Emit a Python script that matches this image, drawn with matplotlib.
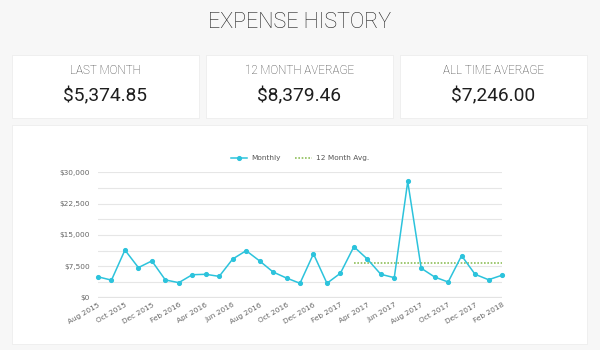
"""Expense history dashboard: three summary cards and a monthly expense line chart."""

import matplotlib

matplotlib.use("Agg")
import matplotlib.pyplot as plt  # noqa: E402
from matplotlib.patches import Rectangle  # noqa: E402
from matplotlib.ticker import FuncFormatter, MultipleLocator  # noqa: E402

# ---- data -------------------------------------------------------------------
months = [
    "Aug 2015", "Sep 2015", "Oct 2015", "Nov 2015", "Dec 2015", "Jan 2016",
    "Feb 2016", "Mar 2016", "Apr 2016", "May 2016", "Jun 2016", "Jul 2016",
    "Aug 2016", "Sep 2016", "Oct 2016", "Nov 2016", "Dec 2016", "Jan 2017",
    "Feb 2017", "Mar 2017", "Apr 2017", "May 2017", "Jun 2017", "Jul 2017",
    "Aug 2017", "Sep 2017", "Oct 2017", "Nov 2017", "Dec 2017", "Jan 2018",
    "Feb 2018",
]
monthly = [
    5000, 4200, 11400, 7200, 8800, 4250,
    3600, 5500, 5600, 5100, 9250, 11250,
    8800, 6150, 4700, 3450, 10500, 3450,
    5850, 12200, 9250, 5600, 4800, 27800,
    7050, 4950, 3750, 10050, 5600, 4300,
    5374.85,
]
avg_start = "Mar 2017"          # 12 month average line starts here
avg_value = 8379.46

card_labels = ["LAST MONTH", "12 MONTH AVERAGE", "ALL TIME AVERAGE"]
card_values = ["$5,374.85", "$8,379.46", "$7,246.00"]

# ---- style ------------------------------------------------------------------
BG = "#f7f7f7"
CYAN = "#2cc3dc"
GREEN = "#8fbf5a"
W, H = 600, 350

fig = plt.figure(figsize=(6, 3.5), dpi=100, facecolor=BG)


def px_rect(x0, y0, x1, y1):
    """Rectangle given in pixel coords (origin top-left) -> figure coords."""
    return Rectangle((x0 / W, 1 - y1 / H), (x1 - x0) / W, (y1 - y0) / H,
                     transform=fig.transFigure, facecolor="white",
                     edgecolor="#ededed", linewidth=0.6, zorder=0)


fig.text(0.5, 1 - 23 / H, "EXPENSE HISTORY", ha="center", va="center",
         family="Roboto", fontweight="light", fontsize=15.5, color="#1e1e1e")

card_x = [(12, 199), (206, 393), (400, 587)]
for (x0, x1), lab, val in zip(card_x, card_labels, card_values):
    fig.patches.append(px_rect(x0, 55, x1, 118))
    cx = (x0 + x1) / 2 / W
    fig.text(cx, 1 - 71 / H, lab, ha="center", va="center", family="Roboto",
             fontweight="light", fontsize=8.4, color="#3a3a3a")
    fig.text(cx, 1 - 96 / H, val, ha="center", va="center", family="Roboto",
             fontsize=13.8, color="#1e1e1e")

fig.patches.append(px_rect(12, 125, 587, 344))

# ---- chart ------------------------------------------------------------------
ax = fig.add_axes([98 / W, 1 - 297.7 / H, (502 - 98) / W, (297.7 - 172.3) / H])
ax.set_zorder(2)
ax.set_facecolor("none")
x = list(range(len(months)))
i0 = months.index(avg_start)
ax.plot(x, monthly, color=CYAN, lw=1.1, marker="o", ms=2.7, label="Monthly", zorder=3,
        clip_on=False)
ax.plot(x[i0:], [avg_value] * (len(x) - i0), color=GREEN, lw=1.2, ls=(0, (1, 1)),
        label="12 Month Avg.", zorder=2)

ax.set_xlim(0, len(x) - 1)
ax.set_ylim(0, 30000)
ax.yaxis.set_major_locator(MultipleLocator(7500))
ax.yaxis.set_minor_locator(MultipleLocator(3750))
ax.yaxis.set_major_formatter(FuncFormatter(lambda v, _: f"${v:,.0f}"))
ax.grid(axis="y", which="both", color="#e6e6e6", lw=0.8)
ax.axhline(0, color="#e3e3e3", lw=1.6, zorder=1)
ax.set_xticks(x[::2])
ax.set_xticklabels(months[::2], rotation=30, ha="right", rotation_mode="anchor")
ax.tick_params(axis="both", which="both", length=0, labelsize=5.3, colors="#666666")
ax.tick_params(axis="x", pad=3)
ax.tick_params(axis="y", pad=6)
for s in ax.spines.values():
    s.set_visible(False)

ax.legend(loc="center", bbox_to_anchor=(0.5, 1 + (172.3 - 158) / (297.7 - 172.3)),
          ncol=2, frameon=False, fontsize=5.3, labelcolor="#555555",
          handlelength=2.2, columnspacing=2.0, handletextpad=0.6)

fig.savefig("out.png", dpi=100, facecolor=BG)
